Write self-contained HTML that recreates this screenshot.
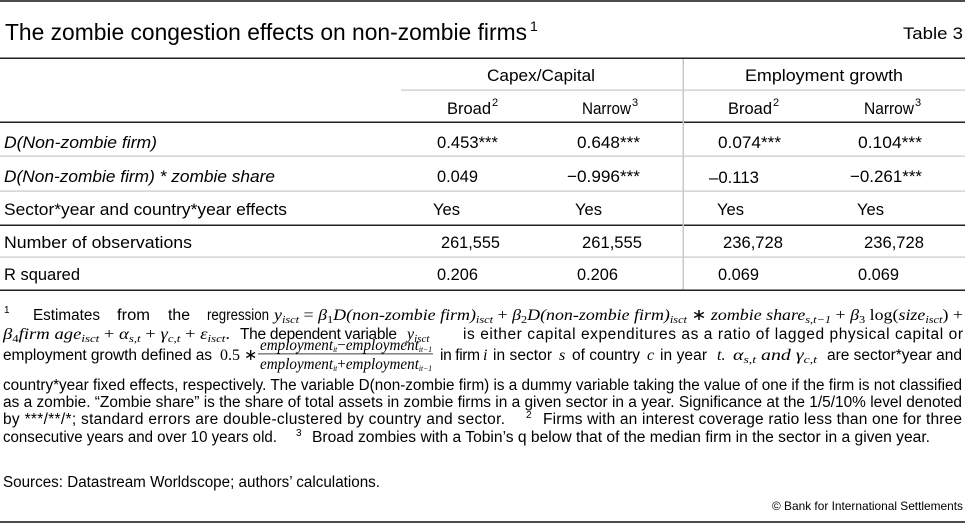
<!DOCTYPE html>
<html>
<head>
<meta charset="utf-8">
<style>
html,body{margin:0;padding:0;background:#fff;}
svg{display:block;}
.s{font-family:"Liberation Sans",sans-serif;fill:#000;}
.t{font-family:"Liberation Sans",sans-serif;fill:#000;font-size:17px;}
.ti{font-family:"Liberation Sans",sans-serif;fill:#000;font-size:17px;font-style:italic;}
.f{font-family:"Liberation Sans",sans-serif;fill:#000;font-size:15.5px;}
.m{font-family:"Liberation Serif",serif;font-style:italic;fill:#000;font-size:16px;}
.u{font-style:normal;}
.sb{font-size:11px;}
.sup{font-family:"Liberation Sans",sans-serif;fill:#000;font-size:10px;}
</style>
</head>
<body>
<svg width="965" height="523" viewBox="0 0 965 523" xmlns="http://www.w3.org/2000/svg">
<rect x="0" y="0" width="965" height="523" fill="#fff"/>
<!-- borders -->
<rect x="0" y="0" width="965" height="2" fill="#4d4d4d"/>
<rect x="0" y="521" width="965" height="2" fill="#4d4d4d"/>

<!-- title -->
<text class="s" x="5" y="40" font-size="23" textLength="522" lengthAdjust="spacingAndGlyphs">The zombie congestion effects on non-zombie firms</text>
<text class="s" x="530" y="31" font-size="14">1</text>
<text class="s" x="903" y="39" font-size="17" textLength="60" lengthAdjust="spacingAndGlyphs">Table 3</text>

<!-- table rules -->
<rect x="0" y="57.5" width="965" height="1.5" fill="#222"/>
<rect x="401" y="89.5" width="564" height="1.2" fill="#c8c8c8"/>
<rect x="0" y="121.5" width="965" height="1.5" fill="#222"/>
<rect x="0" y="155.5" width="965" height="1.2" fill="#c8c8c8"/>
<rect x="0" y="190.5" width="965" height="1.2" fill="#c8c8c8"/>
<rect x="0" y="224.5" width="965" height="1.5" fill="#222"/>
<rect x="0" y="256.5" width="965" height="1.2" fill="#c8c8c8"/>
<rect x="0" y="289.5" width="965" height="1.5" fill="#222"/>
<rect x="682.5" y="59" width="1.5" height="230.5" fill="#c8c8c8"/>

<!-- headers -->
<text class="t" x="487" y="81" textLength="108" lengthAdjust="spacingAndGlyphs">Capex/Capital</text>
<text class="t" x="745" y="81" textLength="158" lengthAdjust="spacingAndGlyphs">Employment growth</text>

<text class="t" x="447" y="114" textLength="44" lengthAdjust="spacingAndGlyphs">Broad</text>
<text class="s" x="492" y="106" font-size="11">2</text>
<text class="t" x="582" y="114" textLength="49" lengthAdjust="spacingAndGlyphs">Narrow</text>
<text class="s" x="632" y="106" font-size="11">3</text>
<text class="t" x="728" y="114" textLength="44" lengthAdjust="spacingAndGlyphs">Broad</text>
<text class="s" x="773" y="106" font-size="11">2</text>
<text class="t" x="864" y="114" textLength="50" lengthAdjust="spacingAndGlyphs">Narrow</text>
<text class="s" x="915" y="106" font-size="11">3</text>

<!-- row labels -->
<text class="ti" x="4" y="148" textLength="153" lengthAdjust="spacingAndGlyphs">D(Non-zombie firm)</text>
<text class="ti" x="4" y="182" textLength="271" lengthAdjust="spacingAndGlyphs">D(Non-zombie firm) * zombie share</text>
<text class="t" x="4" y="215" textLength="283" lengthAdjust="spacingAndGlyphs">Sector*year and country*year effects</text>
<text class="t" x="4" y="248" textLength="188" lengthAdjust="spacingAndGlyphs">Number of observations</text>
<text class="t" x="4" y="280" textLength="76" lengthAdjust="spacingAndGlyphs">R squared</text>

<!-- row 1 -->
<text class="t" x="437" y="148" textLength="61" lengthAdjust="spacingAndGlyphs">0.453***</text>
<text class="t" x="577" y="148" textLength="63" lengthAdjust="spacingAndGlyphs">0.648***</text>
<text class="t" x="718" y="148" textLength="63" lengthAdjust="spacingAndGlyphs">0.074***</text>
<text class="t" x="858" y="148" textLength="64" lengthAdjust="spacingAndGlyphs">0.104***</text>
<!-- row 2 -->
<text class="t" x="437" y="182" textLength="41" lengthAdjust="spacingAndGlyphs">0.049</text>
<text class="t" x="567" y="182" textLength="73" lengthAdjust="spacingAndGlyphs">−0.996***</text>
<text class="t" x="709" y="183" textLength="50" lengthAdjust="spacingAndGlyphs">–0.113</text>
<text class="t" x="850" y="182" textLength="72" lengthAdjust="spacingAndGlyphs">−0.261***</text>
<!-- row 3 -->
<text class="t" x="433" y="215" textLength="27" lengthAdjust="spacingAndGlyphs">Yes</text>
<text class="t" x="575" y="215" textLength="27" lengthAdjust="spacingAndGlyphs">Yes</text>
<text class="t" x="717" y="215" textLength="27" lengthAdjust="spacingAndGlyphs">Yes</text>
<text class="t" x="857" y="215" textLength="27" lengthAdjust="spacingAndGlyphs">Yes</text>
<!-- row 4 -->
<text class="t" x="441" y="248" textLength="59" lengthAdjust="spacingAndGlyphs">261,555</text>
<text class="t" x="582" y="248" textLength="60" lengthAdjust="spacingAndGlyphs">261,555</text>
<text class="t" x="723" y="248" textLength="60" lengthAdjust="spacingAndGlyphs">236,728</text>
<text class="t" x="864" y="248" textLength="60" lengthAdjust="spacingAndGlyphs">236,728</text>
<!-- row 5 -->
<text class="t" x="437" y="280" textLength="41" lengthAdjust="spacingAndGlyphs">0.206</text>
<text class="t" x="577" y="280" textLength="41" lengthAdjust="spacingAndGlyphs">0.206</text>
<text class="t" x="718" y="280" textLength="41" lengthAdjust="spacingAndGlyphs">0.069</text>
<text class="t" x="858" y="280" textLength="41" lengthAdjust="spacingAndGlyphs">0.069</text>

<!-- footnote line 1 -->
<text class="sup" x="4" y="313">1</text>
<text class="f" x="33" y="320" textLength="67" lengthAdjust="spacingAndGlyphs">Estimates</text>
<text class="f" x="117" y="320" textLength="33" lengthAdjust="spacingAndGlyphs">from</text>
<text class="f" x="168" y="320" textLength="22" lengthAdjust="spacingAndGlyphs">the</text>
<text class="f" x="207" y="320" textLength="62" lengthAdjust="spacingAndGlyphs">regression</text>
<text class="m" x="274" y="320" textLength="689" lengthAdjust="spacingAndGlyphs">y<tspan class="sb" dy="3">isct</tspan><tspan class="u" dy="-3"> = </tspan>β<tspan class="sb u" dy="3">1</tspan><tspan dy="-3">D(non-zombie firm)</tspan><tspan class="sb" dy="3">isct</tspan><tspan class="u" dy="-3"> + </tspan>β<tspan class="sb u" dy="3">2</tspan><tspan dy="-3">D(non-zombie firm)</tspan><tspan class="sb" dy="3">isct</tspan><tspan class="u" dy="-3"> ∗ </tspan>zombie share<tspan class="sb" dy="3">s,t−1</tspan><tspan class="u" dy="-3"> + </tspan>β<tspan class="sb u" dy="3">3</tspan><tspan class="u" dy="-3"> log(</tspan>size<tspan class="sb" dy="3">isct</tspan><tspan class="u" dy="-3">) +</tspan></text>

<!-- footnote line 2 -->
<text class="m" x="3" y="339" textLength="227" lengthAdjust="spacingAndGlyphs">β<tspan class="sb u" dy="3">4</tspan><tspan dy="-3">firm age</tspan><tspan class="sb" dy="3">isct</tspan><tspan class="u" dy="-3"> + </tspan>α<tspan class="sb" dy="3">s,t</tspan><tspan class="u" dy="-3"> + </tspan>γ<tspan class="sb" dy="3">c,t</tspan><tspan class="u" dy="-3"> + </tspan>ε<tspan class="sb" dy="3">isct</tspan><tspan class="u" dy="-3">.</tspan></text>
<text class="f" x="240" y="339" textLength="157" lengthAdjust="spacing">The dependent variable</text>
<text class="m" x="407" y="339">y<tspan class="sb" dy="3">isct</tspan></text>
<text class="f" x="463" y="339" textLength="500" lengthAdjust="spacing">is either capital expenditures as a ratio of lagged physical capital or</text>

<!-- footnote line 3 -->
<text class="f" x="3" y="360" textLength="209" lengthAdjust="spacing">employment growth defined as</text>
<text class="m" x="220" y="360"><tspan class="u">0.5 ∗</tspan></text>
<text class="m" x="260" y="350" font-size="11" textLength="172" lengthAdjust="spacingAndGlyphs">employment<tspan dy="2" font-size="8">it</tspan><tspan class="u" dy="-2">−</tspan>employment<tspan dy="2" font-size="8">it−1</tspan></text>
<rect x="258" y="353.5" width="175" height="0.8" fill="#111"/>
<text class="m" x="260" y="369" font-size="11" textLength="172" lengthAdjust="spacingAndGlyphs">employment<tspan dy="2" font-size="8">it</tspan><tspan class="u" dy="-2">+</tspan>employment<tspan dy="2" font-size="8">it−1</tspan></text>
<text class="f" x="440" y="360" textLength="40" lengthAdjust="spacing">in firm</text>
<text class="m" x="483" y="360">i</text>
<text class="f" x="493" y="360" textLength="59" lengthAdjust="spacing">in sector</text>
<text class="m" x="559" y="360">s</text>
<text class="f" x="572" y="360" textLength="68" lengthAdjust="spacing">of country</text>
<text class="m" x="647" y="360">c</text>
<text class="f" x="660" y="360" textLength="47" lengthAdjust="spacing">in year</text>
<text class="m" x="717" y="360">t.</text>
<text class="m" x="733" y="360" textLength="84" lengthAdjust="spacingAndGlyphs">α<tspan class="sb" dy="3">s,t</tspan><tspan dy="-3"> and </tspan>γ<tspan class="sb" dy="3">c,t</tspan></text>
<text class="f" x="827" y="360" textLength="135" lengthAdjust="spacing">are sector*year and</text>

<!-- footnote lines 4-7 -->
<text class="f" x="3" y="390" textLength="959" lengthAdjust="spacingAndGlyphs">country*year fixed effects, respectively. The variable D(non-zombie firm) is a dummy variable taking the value of one if the firm is not classified</text>
<text class="f" x="3" y="407" textLength="959" lengthAdjust="spacingAndGlyphs">as a zombie. “Zombie share” is the share of total assets in zombie firms in a given sector in a year. Significance at the 1/5/10% level denoted</text>
<text class="f" x="3" y="424" textLength="502" lengthAdjust="spacing">by ***/**/*; standard errors are double-clustered by country and sector.</text>
<text class="sup" x="526" y="418">2</text>
<text class="f" x="543" y="424" textLength="419" lengthAdjust="spacing">Firms with an interest coverage ratio less than one for three</text>
<text class="f" x="3" y="442" textLength="274" lengthAdjust="spacingAndGlyphs">consecutive years and over 10 years old.</text>
<text class="sup" x="296" y="436">3</text>
<text class="f" x="312" y="442" textLength="618" lengthAdjust="spacingAndGlyphs">Broad zombies with a Tobin’s q below that of the median firm in the sector in a given year.</text>

<!-- sources -->
<text class="f" x="3" y="487" textLength="377" lengthAdjust="spacingAndGlyphs">Sources: Datastream Worldscope; authors’ calculations.</text>
<text class="s" x="772" y="510" font-size="12" textLength="191" lengthAdjust="spacingAndGlyphs">© Bank for International Settlements</text>
</svg>
</body>
</html>
